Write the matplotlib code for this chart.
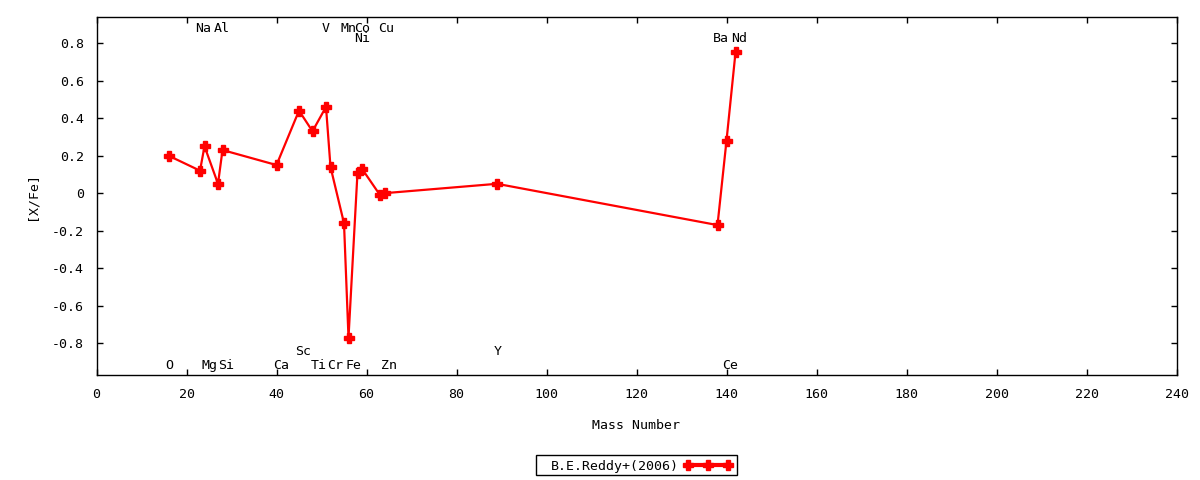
import numpy as np
import matplotlib
matplotlib.use("Agg")
import matplotlib.pyplot as plt
from matplotlib.lines import Line2D
from matplotlib.patches import Rectangle

plt.rcParams['font.family'] = ['DejaVu Sans Mono']

# abundance data, B.E.Reddy+(2006)
mass = [16, 23, 24, 27, 28, 40, 45, 48, 51, 52, 55, 56, 58, 59, 63, 64, 89, 138, 140, 142]
xfe = [0.20, 0.12, 0.25, 0.05, 0.23, 0.15, 0.44, 0.33, 0.46, 0.14, -0.16, -0.77,
       0.11, 0.13, -0.01, 0.0, 0.05, -0.17, 0.28, 0.75]
series_name = 'B.E.Reddy+(2006)'

# element labels (x position, row)
top_names = ['Na', 'Al', 'V', 'Mn', 'Co', 'Cu']
top_x = [23.7, 27.9, 50.9, 56.0, 59.1, 64.3]
top2_names = ['Ni', 'Ba', 'Nd']
top2_x = [59.1, 138.8, 142.7]
bot_names = ['O', 'Mg', 'Si', 'Ca', 'Ti', 'Cr', 'Fe', 'Zn', 'Ce']
bot_x = [16.2, 25.0, 28.8, 41.1, 49.3, 53.1, 57.2, 65.0, 140.9]
bot2_names = ['Sc', 'Y']
bot2_x = [46.0, 89.1]
row_y = {'top': 0.887, 'top2': 0.83, 'bot2': -0.836, 'bot': -0.909}

W, H = 1200, 480
fig = plt.figure(figsize=(12, 4.8), dpi=100)
ax = fig.add_axes([96.5 / W, 1 - 375 / H, 1080 / W, 358 / H])

red = '#ff0000'
ax.plot(mass, xfe, color=red, lw=1.6, marker='P', ms=7.5, mec=red, mfc=red)

fs = 9.5
for names, xs, key in [(top_names, top_x, 'top'), (top2_names, top2_x, 'top2'),
                        (bot_names, bot_x, 'bot'), (bot2_names, bot2_x, 'bot2')]:
    for n, x in zip(names, xs):
        ax.text(x, row_y[key], n, ha='center', va='center_baseline', fontsize=fs)

ax.set_xlim(0, 240)
ax.set_ylim(-0.969, 0.939)
ax.set_xticks(np.arange(0, 241, 20))
ax.set_yticks(np.arange(-0.8, 0.81, 0.2))
ax.set_yticklabels(['-0.8', '-0.6', '-0.4', '-0.2', '0', '0.2', '0.4', '0.6', '0.8'])
ax.tick_params(direction='in', length=4, width=1, top=True, right=True, labelsize=fs)
ax.tick_params(axis='x', pad=9)
ax.tick_params(axis='y', pad=9)
for s in ax.spines.values():
    s.set_linewidth(1)

ax.set_xlabel('Mass Number', fontsize=fs, labelpad=13)
ax.set_ylabel('[X/Fe]', fontsize=fs, labelpad=10)

# key box, gnuplot style: text on the left, sample on the right
fig.add_artist(Rectangle((536 / W, 1 - 475 / H), 201 / W, 20 / H, transform=fig.transFigure,
                         fill=False, edgecolor='black', lw=1))
fig.text(551 / W, 1 - 465 / H, series_name, fontsize=fs, ha='left', va='center_baseline')
fig.add_artist(Line2D([688 / W, 708 / W, 728 / W], [1 - 465 / H] * 3, transform=fig.transFigure,
                      color=red, lw=3, marker='P', ms=7.5, mec=red, mfc=red))

fig.savefig('out.png', dpi=100)
